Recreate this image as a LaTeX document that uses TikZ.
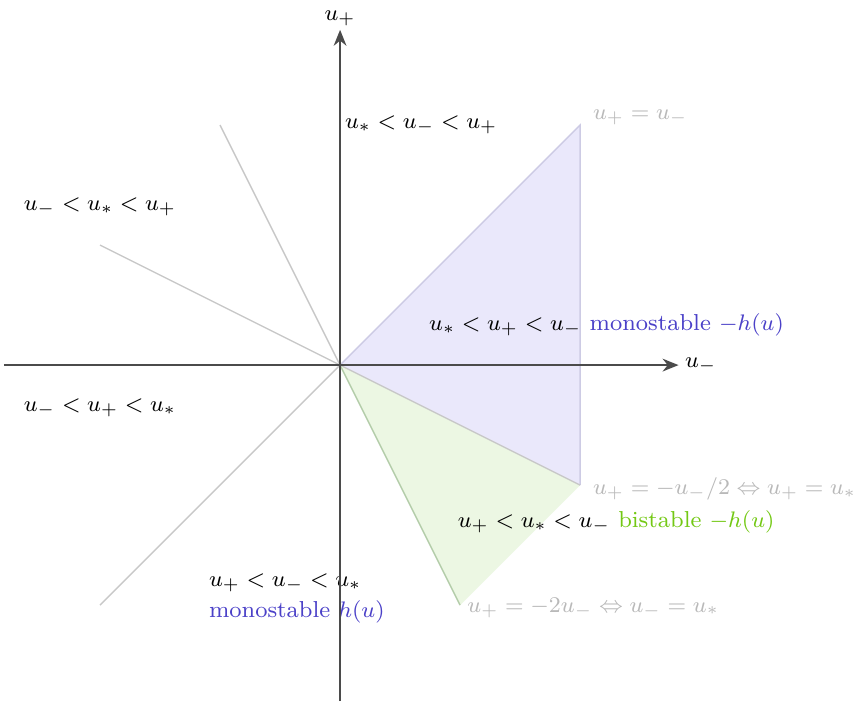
\documentclass[tikz,border=0pt]{standalone}
\usetikzlibrary{arrows.meta}
\definecolor{monoblue}{RGB}{75,65,200}
\definecolor{bigreen}{RGB}{115,200,20}
\definecolor{lgray}{RGB}{185,185,185}
\definecolor{linegray}{RGB}{200,200,200}
\definecolor{purfill}{RGB}{234,232,251}
\definecolor{purline}{RGB}{205,203,228}
\definecolor{grfill}{RGB}{236,247,227}
\definecolor{grline}{RGB}{180,205,170}
\definecolor{axisgray}{RGB}{75,75,75}
\tikzset{
  axisline/.style={draw=axisgray, line width=0.6pt, -{Stealth[length=2mm,width=1.6mm]}},
  sepline/.style={draw=linegray, line width=0.5pt},
  lbl/.style={inner sep=1pt, font=\fontsize{8.2}{10}\selectfont},
  graylbl/.style={lbl, text=lgray},
}
\begin{document}
\begin{tikzpicture}
\useasboundingbox (-4.25,-4.2) rectangle (6.46,4.5625);
\coordinate (O) at (0,0);
\coordinate (A) at (3,3);
\coordinate (A') at (-3,-3);
\coordinate (B) at (3,-1.5);
\coordinate (B') at (-3,1.5);
\coordinate (C) at (1.5,-3);
\coordinate (C') at (-1.5,3);
% regions
\fill[purfill] (O) -- (A) -- (B) -- cycle;
\fill[grfill] (O) -- (B) -- (C) -- cycle;
% separating lines
\draw[sepline] (A') -- (O);
\draw[sepline] (B') -- (O);
\draw[sepline] (C') -- (O);
\draw[draw=purline, line width=0.5pt] (O) -- (A) -- (B);
\draw[sepline] (O) -- (B);
\draw[draw=grline, line width=0.5pt] (O) -- (C);
% labels
\node[lbl, anchor=west] (t1) at (0.02,3.0) {$u_* < u_- < u_+$};
\node[lbl] (t2) at (-3.0,1.98) {$u_- < u_* < u_+$};
\node[lbl] (t3) at (-3.0,-0.54) {$u_- < u_+ < u_*$};
\node[lbl] (t4) at (3.33,0.5) {$u_* < u_+ < u_-$ \textcolor{monoblue}{monostable $-h(u)$}};
\node[lbl] (t5) at (3.45,-1.96) {$u_+ < u_* < u_-$ \textcolor{bigreen}{bistable $-h(u)$}};
\node[lbl, anchor=west] (t6) at (-1.68,-2.72) {$u_+ < u_- < u_*$};
\node[lbl, anchor=west, text=monoblue] (t7) at (-1.68,-3.09) {monostable $h(u)$};
\node[graylbl, anchor=west] (l1) at (3.12,3.1) {$u_+ = u_-$};
\node[graylbl, anchor=west] (l2) at (3.12,-1.55) {$u_+ = -u_-/2 \Leftrightarrow u_+ = u_*$};
\node[graylbl, anchor=west] (l3) at (1.55,-3.03) {$u_+ = -2u_- \Leftrightarrow u_- = u_*$};
% axes
\coordinate (xl) at (-4.2,0);
\coordinate (xr) at (4.23,0);
\coordinate (yb) at (0,-4.2);
\coordinate (yt) at (0,4.19);
\draw[axisline] (xl) -- (xr) node[lbl, right=1pt] (xlab) {$u_-$};
\draw[axisline] (yb) -- (yt) node[lbl, above=0pt] (ylab) {$u_+$};
\end{tikzpicture}
\end{document}
